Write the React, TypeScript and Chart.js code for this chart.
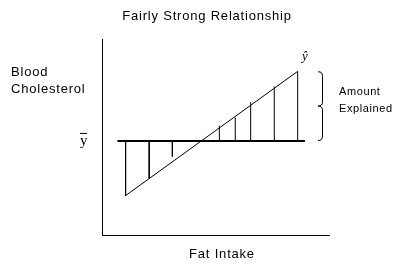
import React, { useEffect, useRef } from "react";
import { Chart, registerables } from "chart.js";

Chart.register(...registerables);

const titleText = "Fairly Strong Relationship";
const yAxisLabel = ["Blood", "Cholesterol"];
const xAxisLabel = "Fat Intake";
const bracketLabel = ["Amount", "Explained"];

const meanY = 48.0;
const meanLineX = [6.8, 89.4];
const fitX = [10.4, 86.2];
const fitY = [20.1, 83.5];
const devX = [10.4, 20.8, 31.0, 51.7, 58.7, 65.5, 75.9, 86.2];
const devY = [20.1, 28.9, 40.0, 55.8, 59.9, 67.7, 75.7, 83.5];
const bracketRange = [48.0, 83.5];

export default function App() {
  const ref = useRef<HTMLCanvasElement | null>(null);
  useEffect(() => {
    if (!ref.current) return;
    const devPoints: any[] = [];
    devX.forEach((x, i) => {
      devPoints.push({ x, y: meanY });
      devPoints.push({ x, y: devY[i] });
      devPoints.push({ x, y: null });
    });
    const textPlugin = {
      id: "texts",
      afterDraw(chart: any) {
        const ctx = chart.ctx as CanvasRenderingContext2D;
        const xs = chart.scales.x;
        const ys = chart.scales.y;
        ctx.save();
        ctx.fillStyle = "#000";
        ctx.textBaseline = "alphabetic";
        (ctx as any).letterSpacing = "0.8px";
        ctx.font = "13px 'Liberation Sans'";
        ctx.textAlign = "center";
        ctx.fillText(titleText, 207, 20);
        ctx.fillText(xAxisLabel, 222, 258);
        ctx.textAlign = "left";
        ctx.fillText(yAxisLabel[0], 11, 76);
        ctx.fillText(yAxisLabel[1], 11, 93);
        ctx.font = "11px 'Liberation Sans'";
        (ctx as any).letterSpacing = "0.6px";
        ctx.fillText(bracketLabel[0], 339, 95);
        ctx.fillText(bracketLabel[1], 339, 112);
        (ctx as any).letterSpacing = "0px";
        // y-bar label
        const my = ys.getPixelForValue(meanY);
        ctx.font = "15px 'Liberation Serif'";
        ctx.fillText("y", 80, my + 4);
        ctx.fillRect(80, my - 8, 7, 1);
        // y-hat label
        ctx.font = "italic 13px 'Liberation Serif'";
        ctx.fillText("ŷ", 302, 60);
        // bracket
        const top = ys.getPixelForValue(bracketRange[1]);
        const bot = ys.getPixelForValue(bracketRange[0]);
        const mid = (top + bot) / 2;
        const bx = 322;
        ctx.strokeStyle = "#000";
        ctx.lineWidth = 1;
        ctx.beginPath();
        ctx.moveTo(bx - 4, top + 0.5);
        ctx.quadraticCurveTo(bx + 0.5, top, bx + 0.5, top + 5);
        ctx.lineTo(bx + 0.5, mid - 4);
        ctx.quadraticCurveTo(bx + 0.5, mid, bx - 4, mid);
        ctx.quadraticCurveTo(bx + 0.5, mid, bx + 0.5, mid + 4);
        ctx.lineTo(bx + 0.5, bot - 5);
        ctx.quadraticCurveTo(bx + 0.5, bot, bx - 4, bot - 0.5);
        ctx.stroke();
        ctx.restore();
      },
    };
    const chart = new Chart(ref.current, {
      type: "scatter",
      data: {
        datasets: [
          {
            data: meanLineX.map((x) => ({ x, y: meanY })),
            showLine: true,
            borderColor: "#000",
            borderWidth: 2,
            pointRadius: 0,
          },
          {
            data: fitX.map((x, i) => ({ x, y: fitY[i] })),
            showLine: true,
            borderColor: "#000",
            borderWidth: 1,
            pointRadius: 0,
          },
          {
            data: devPoints,
            showLine: true,
            spanGaps: false,
            borderColor: "#000",
            borderWidth: 1,
            pointRadius: 0,
          },
        ],
      },
      options: {
        responsive: false,
        animation: false,
        devicePixelRatio: 1,
        layout: { padding: { left: 102, right: 74, top: 39, bottom: 32 } },
        plugins: { legend: { display: false }, tooltip: { enabled: false }, title: { display: false } },
        scales: {
          x: {
            type: "linear",
            min: 0,
            max: 100,
            ticks: { display: false },
            grid: { display: false, drawTicks: false, tickLength: 0 },
            border: { display: true, color: "#000", width: 1 },
          },
          y: {
            type: "linear",
            min: 0,
            max: 100,
            ticks: { display: false },
            grid: { display: false, drawTicks: false, tickLength: 0 },
            border: { display: true, color: "#000", width: 1 },
          },
        },
      },
      plugins: [textPlugin],
    });
    return () => chart.destroy();
  }, []);
  return (
    <div style={{ position: "fixed", left: 0, top: 0, width: 403, height: 267, background: "#fff" }}>
      <canvas ref={ref} width={403} height={267} />
    </div>
  );
}
